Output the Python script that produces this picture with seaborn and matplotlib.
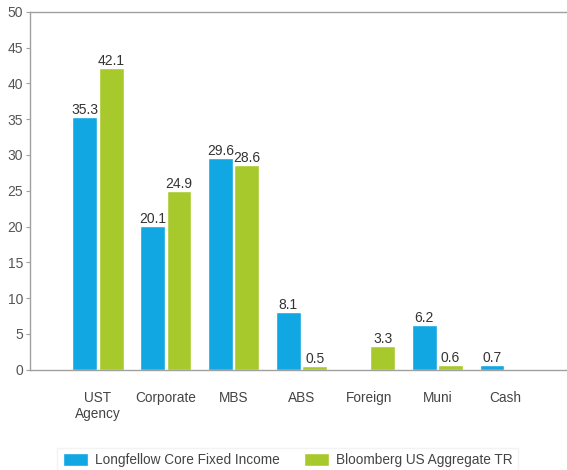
import matplotlib
matplotlib.use("Agg")
import matplotlib.pyplot as plt
import seaborn as sns
import pandas as pd

categories = ["UST\nAgency", "Corporate", "MBS", "ABS", "Foreign", "Muni", "Cash"]
longfellow = [35.3, 20.1, 29.6, 8.1, 0.0, 6.2, 0.7]
bloomberg = [42.1, 24.9, 28.6, 0.5, 3.3, 0.6, 0.0]
series_names = ["Longfellow Core Fixed Income", "Bloomberg US Aggregate TR"]
colors = ["#10A7E3", "#A8C92C"]

rows = []
for c, a, b in zip(categories, longfellow, bloomberg):
    rows.append({"cat": c, "series": series_names[0], "val": a})
    rows.append({"cat": c, "series": series_names[1], "val": b})
df = pd.DataFrame(rows)

sns.set_style("white")
plt.rcParams["font.family"] = ["Liberation Sans", "DejaVu Sans"]

fig = plt.figure(figsize=(5.67, 4.70), dpi=100)
ax = fig.add_axes([30 / 567, 0.2138, 1 - 30 / 567, 0.7607])

sns.barplot(data=df, x="cat", y="val", hue="series", palette=colors,
            width=0.78, ax=ax, legend=True, saturation=1, gap=0.06)

for cont, vals in zip(ax.containers, [longfellow, bloomberg]):
    labels = [f"{v:.1f}" if v > 0 else "" for v in vals]
    ax.bar_label(cont, labels=labels, padding=0, fontsize=10, color="#333333")

ax.set_ylim(0, 50)
ax.set_yticks(range(0, 51, 5))
ax.set_xlim(-1.0, 6.91)
ax.set_xlabel("")
ax.set_ylabel("")
for s in ["left", "top", "bottom"]:
    ax.spines[s].set_color("#a0a0a0")
    ax.spines[s].set_linewidth(1.0)
ax.spines["right"].set_visible(False)
ax.tick_params(axis="y", left=True, length=3, color="#a0a0a0", labelsize=10, labelcolor="#555555", pad=2)
ax.tick_params(axis="x", bottom=False, labelsize=9.8, labelcolor="#444444", pad=12)

leg = ax.get_legend()
handles, labs = ax.get_legend_handles_labels()
leg.remove()
fig.legend(handles, labs, loc="center", bbox_to_anchor=(0.507, 0.021), ncol=2,
           frameon=True, fontsize=9.8, handlelength=1.85, handleheight=1.05,
           handletextpad=0.5, columnspacing=1.8, borderpad=0.4,
           edgecolor="#f0f0f0", fancybox=False, labelcolor="#444444")

fig.savefig("out.png", dpi=100)
